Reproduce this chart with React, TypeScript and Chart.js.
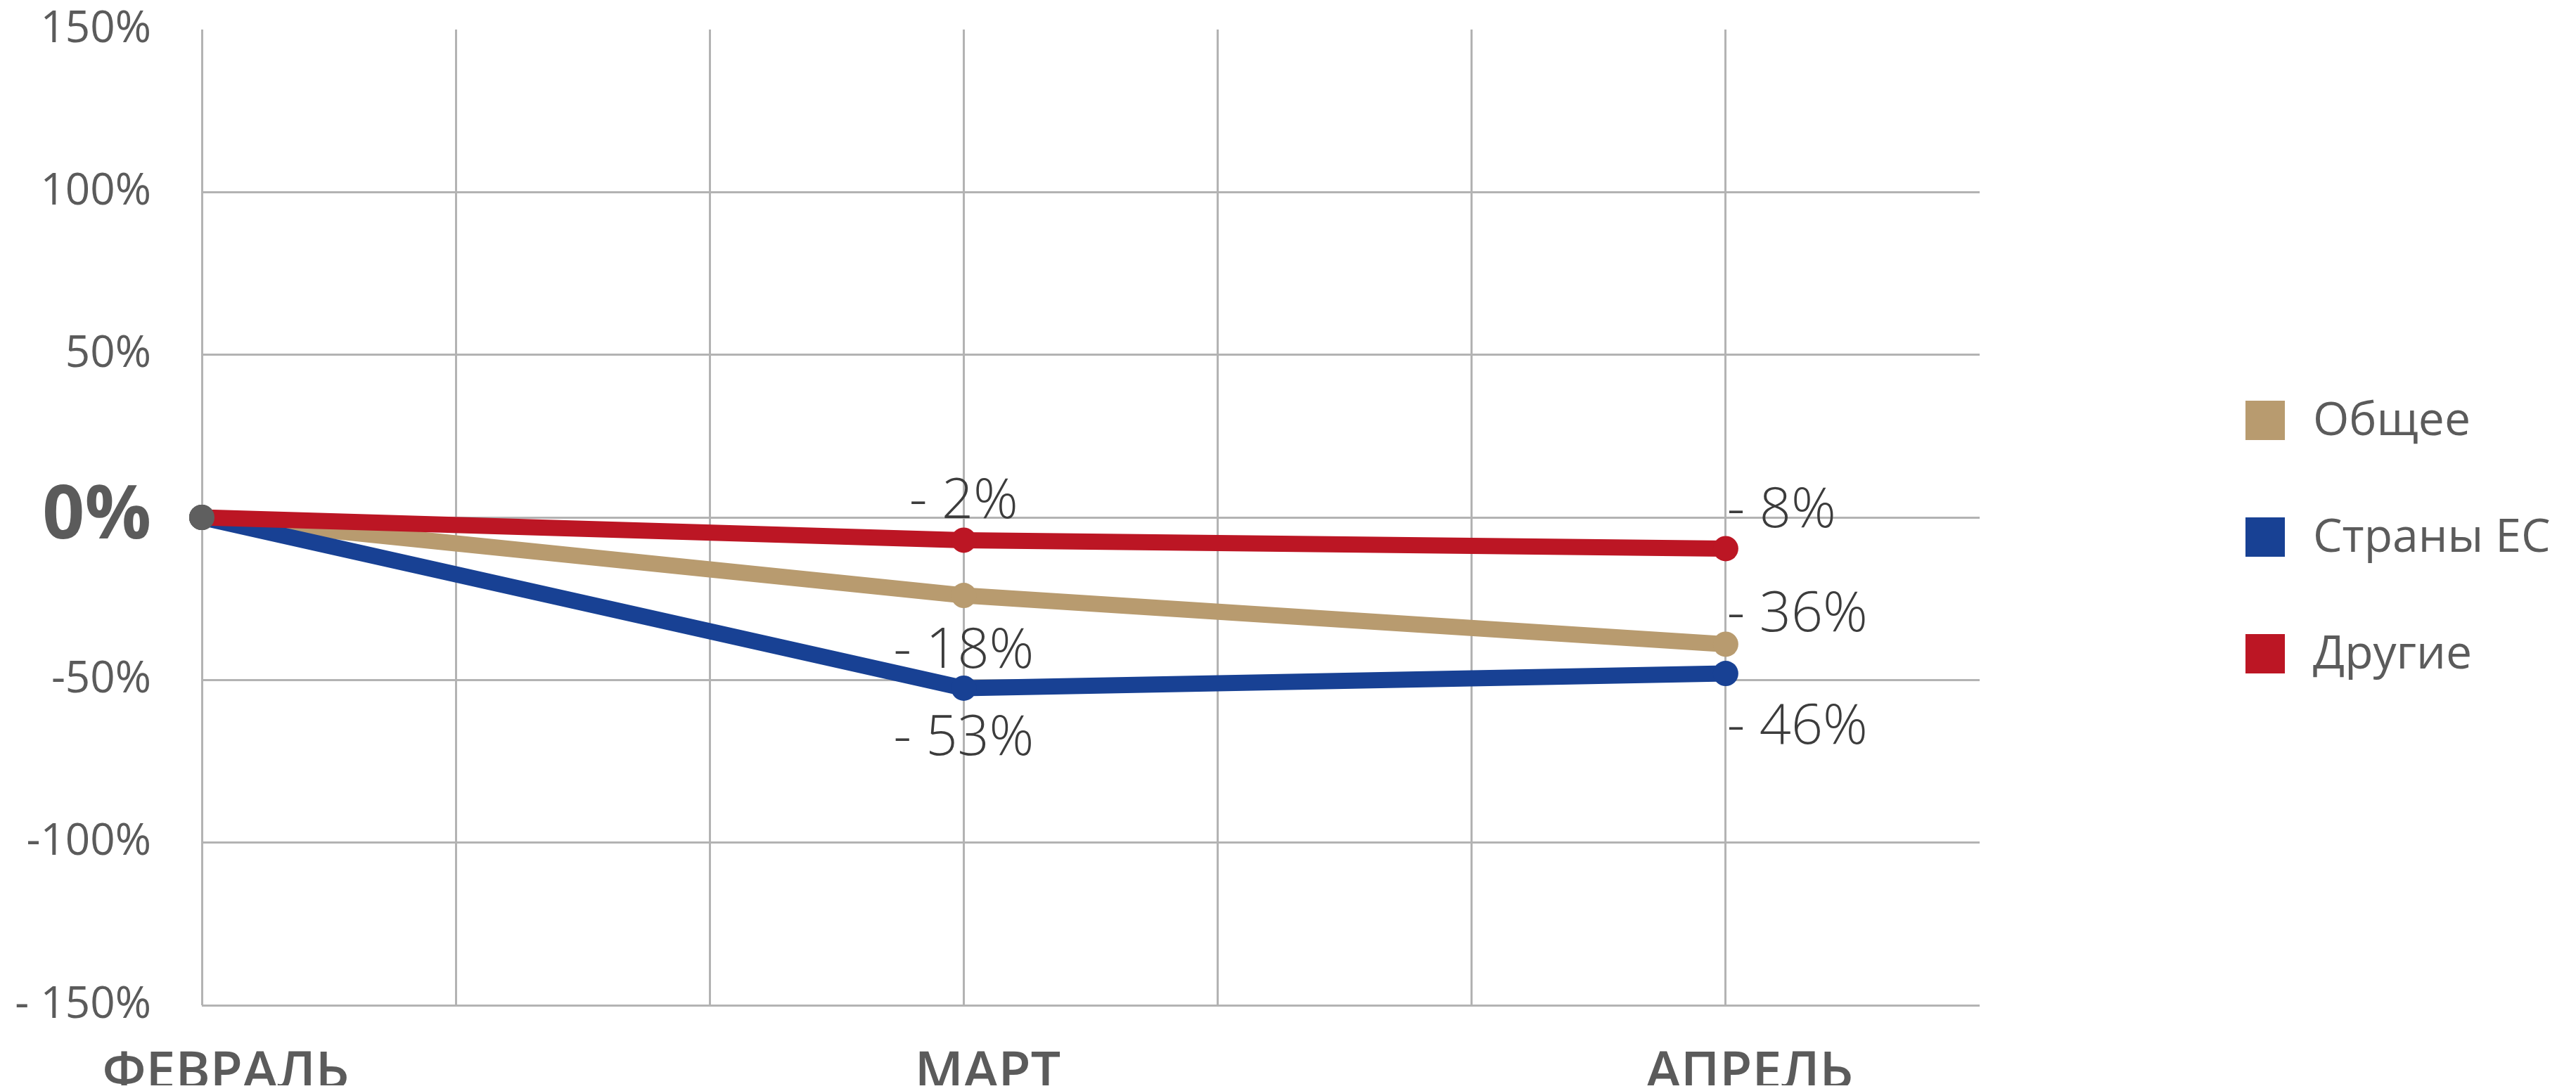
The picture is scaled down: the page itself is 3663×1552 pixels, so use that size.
import React, { useEffect, useRef } from 'react';
import { Chart, registerables } from 'chart.js';

Chart.register(...registerables);

// ---- data ----
const months = ['ФЕВРАЛЬ', 'МАРТ', 'АПРЕЛЬ'];
const monthSlots = [0, 3, 6];
const slotMax = 7;
const seriesNames = ['Общее', 'Страны ЕС', 'Другие'];
const seriesColors = ['#B89B6F', '#184194', '#BC1624'];
const obshee = [0, -24, -39];
const stranyEs = [0, -52.5, -48];
const drugie = [0, -7, -9.6];
const obsheeLabels = ['', '- 18%', '- 36%'];
const stranyEsLabels = ['', '- 53%', '- 46%'];
const drugieLabels = ['', '- 2%', '- 8%'];
const yTickValues = [150, 100, 50, 0, -50, -100, -150];
const yTickLabels = ['150%', '100%', '50%', '0%', '-50%', '-100%', '- 150%'];

// ---- styles ----
const FONT = "'Open Sans', 'Noto Sans', sans-serif";
const GRID = '#b3b3b3';
const TEXT = '#5b5b5b';
const LABEL_TEXT = '#3c3c3c';
const START_POINT = '#5f5f5f';
const CANVAS_W = 3647;
const CANVAS_H = 1536;

const seriesValues = [obshee, stranyEs, drugie];
const seriesLabelTexts = [obsheeLabels, stranyEsLabels, drugieLabels];
// pixel offsets of value labels relative to their point
const labelOffsets = [
  [0, 80, -41],
  [0, 73, 77],
  [0, -54, -53],
];
const drawOrder = [3, 2, 1];

const valueLabelPlugin = {
  id: 'valueLabels',
  afterDatasetsDraw(chart: any) {
    const ctx = chart.ctx;
    seriesValues.forEach((_, di) => {
      const meta = chart.getDatasetMeta(di);
      const texts = seriesLabelTexts[di];
      meta.data.forEach((pt: any, i: number) => {
        if (!texts[i]) return;
        const last = i === meta.data.length - 1;
        ctx.save();
        ctx.font = `300 79px ${FONT}`;
        ctx.fillStyle = LABEL_TEXT;
        ctx.textAlign = last ? 'left' : 'center';
        ctx.textBaseline = 'middle';
        ctx.fillText(texts[i], pt.x + (last ? 2 : 0), pt.y + labelOffsets[di][i]);
        ctx.restore();
      });
    });
  },
};

const legendPlugin = {
  id: 'sideLegend',
  afterDraw(chart: any) {
    const ctx = chart.ctx;
    const boxX = 3185;
    const textX = 3281;
    const rows = [590, 756, 922];
    const box = 56;
    seriesNames.forEach((name, i) => {
      ctx.save();
      ctx.fillStyle = seriesColors[i];
      ctx.fillRect(boxX, rows[i] - box / 2, box, box);
      ctx.font = `400 66px ${FONT}`;
      ctx.fillStyle = TEXT;
      ctx.textAlign = 'left';
      ctx.textBaseline = 'middle';
      ctx.fillText(name, textX, rows[i] + 2);
      ctx.restore();
    });
  },
};

export default function App() {
  const ref = useRef<HTMLCanvasElement>(null);

  useEffect(() => {
    const canvas = ref.current;
    if (!canvas) return;

    const datasets = seriesValues.map((vals, si) => ({
      label: seriesNames[si],
      data: vals.map((v, i) => ({ x: monthSlots[i], y: v })),
      borderColor: seriesColors[si],
      backgroundColor: seriesColors[si],
      borderWidth: 23,
      tension: 0,
      fill: false,
      clip: false as any,
      order: drawOrder[si],
      pointRadius: 18,
      pointBorderWidth: 0,
      pointBackgroundColor: vals.map((_, i) => (i === 0 ? START_POINT : seriesColors[si])),
      pointBorderColor: vals.map((_, i) => (i === 0 ? START_POINT : seriesColors[si])),
    }));

    const chart = new Chart(canvas, {
      type: 'line',
      data: { datasets },
      plugins: [valueLabelPlugin, legendPlugin],
      options: {
        animation: false,
        responsive: false,
        maintainAspectRatio: false,
        events: [],
        layout: { padding: { top: 34, right: CANVAS_W - 2807, bottom: 0, left: 0 } },
        plugins: {
          legend: { display: false },
          tooltip: { enabled: false },
          title: { display: false },
        },
        scales: {
          x: {
            type: 'linear',
            min: 0,
            max: slotMax,
            afterFit: (scale: any) => {
              scale.height = 114;
              scale.paddingLeft = 0;
              scale.paddingRight = 0;
            },
            ticks: {
              stepSize: 1,
              autoSkip: false,
              maxRotation: 0,
              padding: 53,
              labelOffset: 34,
              color: TEXT,
              font: { family: FONT, size: 75, weight: '600' as any, lineHeight: 1.2 },
              callback: (v: any) => {
                const idx = monthSlots.indexOf(Number(v));
                return idx >= 0 ? months[idx] : '';
              },
            },
            grid: {
              drawTicks: false,
              lineWidth: 3,
              color: (c: any) => (c.tick && c.tick.value === slotMax ? 'rgba(0,0,0,0)' : GRID),
            },
            border: { display: false },
          },
          y: {
            type: 'linear',
            min: -150,
            max: 150,
            afterFit: (scale: any) => {
              scale.width = 279;
              scale.paddingTop = 0;
              scale.paddingBottom = 0;
            },
            afterBuildTicks: (scale: any) => {
              scale.ticks = yTickValues.map((v) => ({ value: v }));
            },
            ticks: {
              padding: 72,
              color: TEXT,
              font: (c: any) =>
                c.tick && c.tick.value === 0
                  ? { family: FONT, size: 105, weight: 'bold' as any, lineHeight: 1 }
                  : { family: FONT, size: 62, weight: '400' as any, lineHeight: 1 },
              callback: (v: any) => {
                const idx = yTickValues.indexOf(Number(v));
                return idx >= 0 ? yTickLabels[idx] : '';
              },
            },
            grid: {
              drawTicks: false,
              lineWidth: 3,
              color: (c: any) => (c.tick && c.tick.value === 150 ? 'rgba(0,0,0,0)' : GRID),
            },
            border: { display: false },
          },
        },
      } as any,
    });

    return () => chart.destroy();
  }, []);

  return (
    <div style={{ width: CANVAS_W, height: CANVAS_H, background: '#ffffff' }}>
      <canvas ref={ref} width={CANVAS_W} height={CANVAS_H} style={{ display: 'block' }} />
    </div>
  );
}
